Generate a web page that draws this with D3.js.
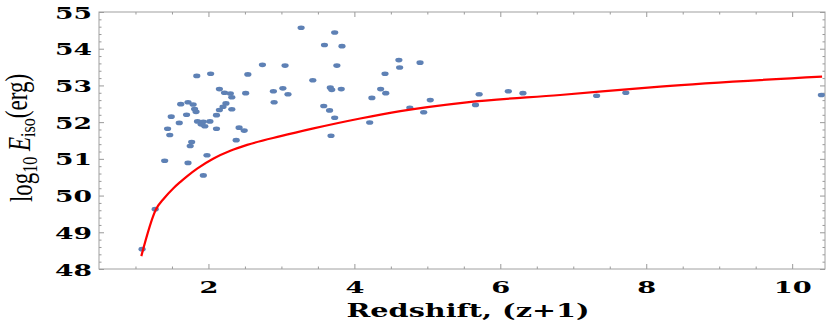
<!DOCTYPE html>
<html>
<head>
<meta charset="utf-8">
<script src="https://cdn.jsdelivr.net/npm/d3@7"></script>
<style>
  body { margin: 0; background: #fff; }
  .tick text { font-family: "DejaVu Serif", serif; font-weight: bold; font-size: 17px; fill: #000; }
  .frame line { stroke: #999; }
</style>
</head>
<body>
<script>
// GRB isotropic energies vs redshift, with the detection limit curve

// ----- Data ---------------------
var redshift = [3.27, 3.73, 3.59, 3.83, 2.74, 3.05, 3.76, 1.84, 2.03, 2.54,
  3.43, 2.15, 2.22, 2.30, 2.32, 2.51, 2.89, 3.02, 3.09, 2.90,
  3.67, 3.69, 3.82, 3.58, 3.66, 3.73, 3.68, 4.24, 4.21, 4.36,
  1.62, 1.72, 1.79, 1.81, 1.83, 2.24, 2.20, 2.15, 2.32, 1.49,
  1.70, 2.11, 1.60, 1.85, 1.93, 1.90, 1.95, 2.02, 1.44, 1.47,
  2.11, 2.42, 2.49, 1.77, 1.75, 2.38, 1.98, 1.40, 1.72, 1.93,
  1.27, 1.09, 4.61, 4.62, 4.90, 4.42, 4.43, 4.76, 4.95, 5.04,
  5.66, 5.71, 6.11, 6.31, 7.32, 7.72, 10.40];

var logEiso = [54.57, 54.44, 54.10, 54.07, 53.56, 53.54, 53.54, 53.26, 53.32, 53.30,
  53.14, 52.90, 52.80, 52.78, 52.68, 52.79, 52.84, 52.92, 52.76, 52.54,
  52.94, 52.88, 52.90, 52.44, 52.32, 52.12, 51.63, 52.66, 51.99, 52.90,
  52.49, 52.54, 52.48, 52.36, 52.28, 52.51, 52.42, 52.33, 52.35, 52.15,
  52.20, 52.19, 51.98, 52.02, 52.01, 51.94, 51.89, 52.02, 51.82, 51.65,
  51.82, 51.85, 51.77, 51.46, 51.35, 51.51, 51.10, 50.95, 50.89, 50.55,
  49.63, 48.54, 53.69, 53.49, 53.62, 53.32, 52.79, 52.39, 52.27, 52.60,
  52.47, 52.76, 52.84, 52.79, 52.72, 52.80, 52.74];

// limit curve
var limitZ = [1.08, 1.28, 1.39, 1.52, 1.62, 1.71, 1.85, 2.07, 2.30, 2.53,
  2.99, 3.44, 4.08, 4.63, 5.54, 6.82, 8.19, 10.41];
var limitE = [48.35, 49.62, 49.92, 50.20, 50.38, 50.53, 50.74, 51.01, 51.22, 51.38,
  51.62, 51.83, 52.10, 52.30, 52.54, 52.74, 52.97, 53.24];

// tick labels
var xTicks = [2, 4, 6, 8, 10];
var yTicks = [48, 49, 50, 51, 52, 53, 54, 55];

// ----- Page dimensions ---------------------
var margin = { top: 12, right: 5, bottom: 58, left: 99 },
  width = 830 - margin.left - margin.right,
  height = 327 - margin.top - margin.bottom;

var x = d3.scaleLinear().domain([0.5, 10.45]).range([0, width]);
var y = d3.scaleLinear().domain([48, 55]).range([height, 0]);

var svg = d3.select("body")
  .append("svg")
  .attr("width", 830)
  .attr("height", 327);

var chart = svg.append("g")
  .attr("transform", "translate(" + margin.left + "," + margin.top + ")");

// minor tick positions
var xMinor = d3.range(1, 10.5, 0.5).filter(function(d) { return xTicks.indexOf(d) < 0; });
var yMinor = d3.range(48.2, 55, 0.2).filter(function(d) { return Math.abs(d - Math.round(d)) > 0.05; });

// ----- Frame with ticks on all sides ---------------------
function frameAxis(axis, tx, ty, values, size, labels) {
  var g = chart.append("g")
    .attr("class", "frame")
    .attr("transform", "translate(" + tx + "," + ty + ")")
    .call(axis.tickValues(values).tickSize(-size).tickSizeOuter(0)
      .tickFormat(labels ? d3.format("d") : ""));
  g.select(".domain").remove();
  return g;
}

var xb = frameAxis(d3.axisBottom(x).tickPadding(0), 0, height, xTicks, 5, true);
frameAxis(d3.axisBottom(x), 0, height, xMinor, 2.5, false);
frameAxis(d3.axisTop(x), 0, 0, xTicks, 5, false);
frameAxis(d3.axisTop(x), 0, 0, xMinor, 2.5, false);

var yl = frameAxis(d3.axisLeft(y).tickPadding(7), 0, 0, yTicks, 5, true);
frameAxis(d3.axisLeft(y), 0, 0, yMinor, 2.5, false);
frameAxis(d3.axisRight(y), width, 0, yTicks, 5, false);
frameAxis(d3.axisRight(y), width, 0, yMinor, 2.5, false);

// wide serif digits, like the original
xb.selectAll("text")
  .attr("dy", null)
  .attr("y", 24)
  .attr("textLength", function(d) { return String(d).length * 19; })
  .attr("lengthAdjust", "spacingAndGlyphs");

yl.selectAll("text")
  .attr("dy", "0.36em")
  .attr("textLength", function(d) { return String(d).length * 18.5; })
  .attr("lengthAdjust", "spacingAndGlyphs");

chart.append("rect")
  .attr("width", width)
  .attr("height", height)
  .attr("fill", "none")
  .attr("stroke", "#a0a0a0")
  .attr("stroke-width", 1);

// ----- Points ---------------------
chart.selectAll(".dot")
  .data(redshift)
  .enter().append("ellipse")
  .attr("class", "dot")
  .attr("cx", function(d) { return x(d); })
  .attr("cy", function(d, i) { return y(logEiso[i]); })
  .attr("rx", 3.6)
  .attr("ry", 2.3)
  .attr("fill", "#5e81b5");

// ----- Limit line ---------------------
var limitLine = d3.line()
  .x(function(d) { return x(d); })
  .y(function(d, i) { return y(limitE[i]); })
  .curve(d3.curveMonotoneX);

chart.append("path")
  .attr("fill", "none")
  .attr("stroke", "#ff0000")
  .attr("stroke-width", 2.2)
  .attr("d", limitLine(limitZ));

// ----- Axis titles ---------------------
svg.append("text")
  .attr("x", 468)
  .attr("y", 317)
  .attr("text-anchor", "middle")
  .attr("font-family", "DejaVu Serif, serif")
  .attr("font-weight", "bold")
  .attr("font-size", 18)
  .attr("textLength", 243)
  .attr("lengthAdjust", "spacingAndGlyphs")
  .text("Redshift, (z+1)");

var ylab = svg.append("text")
  .attr("transform", "translate(32,138) scale(1.35,1) rotate(-90)")
  .attr("text-anchor", "middle")
  .attr("font-family", "Liberation Serif, serif")
  .attr("font-size", 23);
ylab.append("tspan").text("log");
ylab.append("tspan").attr("font-size", 16).attr("dy", "0.25em").text("10");
ylab.append("tspan").attr("dy", "-0.25em").text(" ");
ylab.append("tspan").attr("font-style", "italic").text("E");
ylab.append("tspan").attr("font-size", 16).attr("dy", "0.25em").text("iso");
ylab.append("tspan").attr("dy", "-0.25em").text("(erg)");
</script>
</body>
</html>
